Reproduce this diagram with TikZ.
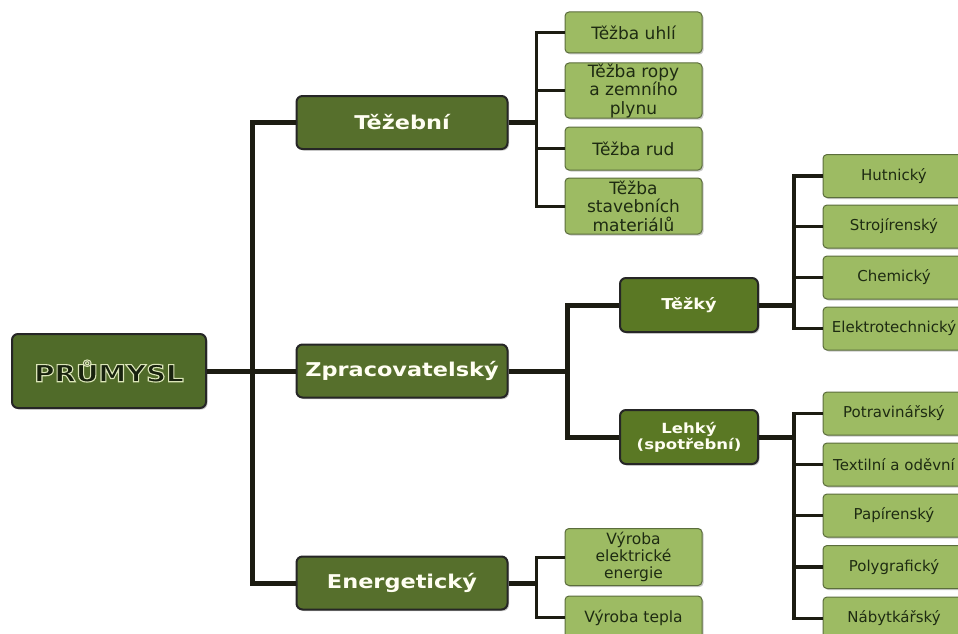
\documentclass[tikz,border=0pt]{standalone}
\usepackage{fontspec}
\setmainfont{DejaVu Sans}
\newfontfamily\sirokefont{DejaVu Sans}[FakeStretch=1.18]
\usetikzlibrary{
	calc,
	positioning,
	shadows
	}
\definecolor{koren}{HTML}{506B29}
\definecolor{tmava}{HTML}{566F2C}
\definecolor{stredni}{HTML}{5A7824}
\definecolor{svetla}{HTML}{9DBB63}
\definecolor{okraj}{HTML}{5B6D3C}
\definecolor{pismo}{HTML}{1E2B12}
\definecolor{cara}{HTML}{1C1C12}
% svetly obrys kolem pisma korene
\newcommand{\zarivy}[1]{\special{pdf:literal q 2 Tr 1.1 w 0.86 0.90 0.72 RG}#1\special{pdf:literal Q}}
\tikzstyle{stin}=[drop shadow={shadow xshift=1.5pt, shadow yshift=-1.5pt, opacity=0.35, fill=black!60}]
\tikzstyle{uzel-koren}=[draw=black!85, line width=2pt, fill=koren, rounded corners=6pt, stin,
	minimum width=194, minimum height=74, inner sep=0pt,
	font={\sirokefont\bfseries\fontsize{23.5pt}{28}\selectfont}, text=pismo!80!black]
\tikzstyle{uzel-vetev}=[draw=black!85, line width=2pt, fill=tmava, rounded corners=6pt, stin,
	minimum width=211, minimum height=53, inner sep=0pt,
	font={\sirokefont\bfseries\fontsize{19pt}{22}\selectfont}, text=white!95!yellow]
\tikzstyle{uzel-odvetvi}=[draw=black!85, line width=2pt, fill=stredni, rounded corners=6pt, stin,
	minimum width=138, minimum height=54, inner sep=0pt, align=center,
	font={\sirokefont\bfseries\fontsize{15pt}{16}\selectfont}, text=white!95!yellow]
\tikzstyle{list}=[draw=okraj, line width=1pt, fill=svetla, rounded corners=4pt, stin,
	minimum height=43, inner sep=0pt, align=center, text=pismo]
\tikzstyle{list-tezba}=[list, minimum width=137, font={\fontsize{17pt}{18.5}\selectfont}]
\tikzstyle{list-energie}=[list, minimum width=137, font={\fontsize{15.5pt}{17}\selectfont}]
\tikzstyle{list-prumysl}=[list, minimum width=142, font={\fontsize{15pt}{17}\selectfont}]
\tikzstyle{cara-hlavni}=[draw=cara, line width=5pt]
\tikzstyle{cara-tenka}=[draw=cara, line width=3pt]

\begin{document}
\begin{tikzpicture}[x=1pt,y=-1pt]
            \useasboundingbox (0,0) rectangle (958,634);
            \clip (0,0) rectangle (958,634);
            % koren a tri vetve
            \node[uzel-koren] (n1) at (109,371) {\zarivy{PRŮMYSL}};
            \node[uzel-vetev] (n2-t) at (402,122.5) {Těžební};
            \node[uzel-vetev] (n2-z) at (402,371) {Zpracovatelský};
            \node[uzel-vetev] (n2-e) at (402,583) {Energetický};
            %
            \node[uzel-odvetvi] (n3-tz) at (689,305) {Těžký};
            \node[uzel-odvetvi, font={\sirokefont\bfseries\fontsize{14pt}{16}\selectfont}] (n3-lh) at (689,437) {Lehký\\(spotřební)};
            % tezba
            \node[list-tezba, minimum height=41] (t-1) at (633.5,32.5) {Těžba uhlí};
            \node[list-tezba, minimum height=55] (t-2) at (633.5,90.5) {Těžba ropy\\a zemního\\plynu};
            \node[list-tezba] (t-3) at (633.5,148.5) {Těžba rud};
            \node[list-tezba, minimum height=56] (t-4) at (633.5,206) {Těžba\\stavebních\\materiálů};
            % tezky
            \node[list-prumysl] (h-1) at (894,176) {Hutnický};
            \node[list-prumysl] (h-2) at (894,226.5) {Strojírenský};
            \node[list-prumysl] (h-3) at (894,277.5) {Chemický};
            \node[list-prumysl] (h-4) at (894,328.5) {Elektrotechnický};
            % lehky
            \node[list-prumysl] (l-1) at (894,413.5) {Potravinářský};
            \node[list-prumysl] (l-2) at (894,464.5) {Textilní a oděvní};
            \node[list-prumysl] (l-3) at (894,515.5) {Papírenský};
            \node[list-prumysl] (l-4) at (894,567) {Polygrafický};
            \node[list-prumysl] (l-5) at (894,618.5) {Nábytkářský};
            % energie
            \node[list-energie, minimum height=57] (e-1) at (633.5,557) {Výroba\\elektrické\\energie};
            \node[list-energie] (e-2) at (633.5,617.5) {Výroba tepla};
            %
            \coordinate (k1) at (252,371);
            \coordinate (k2) at (536,122.5);
            \coordinate (k3) at (567,371);
            \coordinate (k4) at (794,305);
            \coordinate (k5) at (794,437);
            \coordinate (k6) at (536,583);

            \draw[cara-hlavni] (n1) -- (k1);
            \draw[cara-hlavni] (n2-t.west) -| (k1) |- (n2-e.west);
            \draw[cara-hlavni] (k1) -- (n2-z);

            \draw[cara-hlavni] (n2-t) -- (k2);
            \foreach \i in {1,...,4}
                  \draw[cara-tenka] (t-\i.west) -| (k2);

            \draw[cara-hlavni] (n2-z) -- (k3);
            \draw[cara-hlavni] (n3-tz.west) -| (k3) |- (n3-lh.west);

            \draw[cara-hlavni] (n3-tz) -- (k4);
            \foreach \i in {1,...,4}
                  \draw[cara-tenka, line width=3.5pt] (h-\i.west) -| (k4);

            \draw[cara-hlavni] (n3-lh) -- (k5);
            \foreach \i in {1,...,5}
                  \draw[cara-tenka, line width=3.5pt] (l-\i.west) -| (k5);

            \draw[cara-hlavni] (n2-e) -- (k6);
            \foreach \i in {1,2}
                  \draw[cara-tenka] (e-\i.west) -| (k6);
        \end{tikzpicture}
\end{document}
